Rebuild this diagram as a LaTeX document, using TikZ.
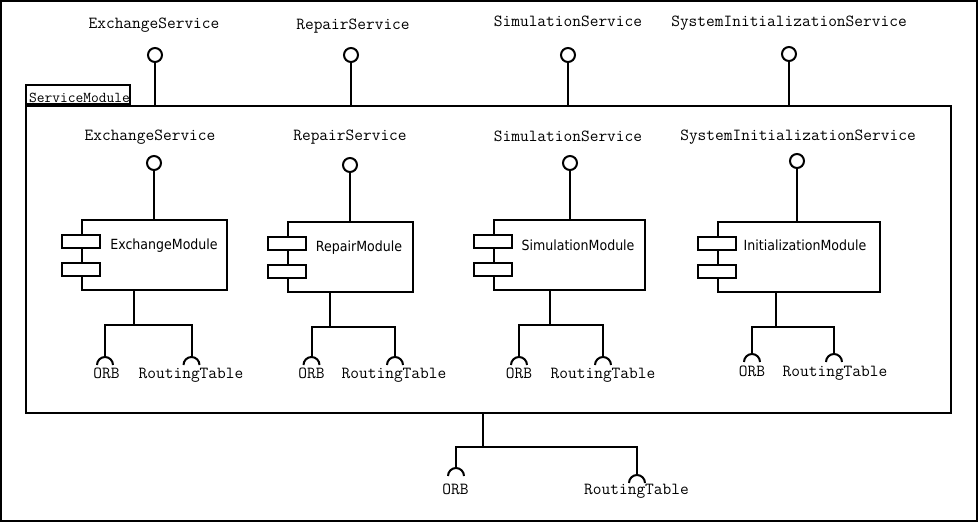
\documentclass[tikz,border=0pt]{standalone}
\usepackage{fontspec}
\newfontfamily\umlsans[FakeStretch=0.9]{DejaVu Sans}
\tikzset{
    iface/.style={circle, draw, minimum size=10.5pt, inner sep=0pt},
    module/.style={rectangle, draw, minimum height=52.5pt, inner sep=0pt},
    modpin/.style={rectangle, draw, fill=white, minimum width=29pt, minimum height=9.75pt, inner sep=0pt},
    ifacelbl/.style={font=\ttfamily\fontsize{12.7}{14}\selectfont, anchor=base, inner sep=0pt},
    modlbl/.style={font=\umlsans\fontsize{10.5}{12}\selectfont, anchor=base, inner sep=0pt},
    socket/.pic={\draw (-6pt,-6pt) arc[start angle=180, end angle=0, radius=6pt];}
}
\begin{document}
\begin{tikzpicture}[x=0.75pt, y=-0.75pt, line width=1.5pt]
        \useasboundingbox (0, 0) rectangle (978, 522);
        \draw (1, 1) rectangle (977, 521);
        % package
        \node[rectangle, draw, minimum width=693.75pt, minimum height=230.25pt] (svc) at (488.5, 259.5) {};
        \node[rectangle, draw, minimum width=78pt, minimum height=14.25pt, anchor=south west] (svctab) at (svc.north west) {};
        \node[anchor=base west, inner sep=0pt, font=\ttfamily\fontsize{11.3}{13}\selectfont] (svclbl) at (28, 102) {ServiceModule};
        % provided interfaces of the package
        \node[ifacelbl] (topexlbl) at (154, 28) {ExchangeService};
        \node[ifacelbl] (toprplbl) at (353, 29) {RepairService};
        \node[ifacelbl] (topsmlbl) at (568, 26) {SimulationService};
        \node[ifacelbl] (topinlbl) at (789, 26) {SystemInitializationService};
        \node[iface] (topex) at (155, 55) {};
        \node[iface] (toprp) at (351, 55) {};
        \node[iface] (topsm) at (568, 55) {};
        \node[iface] (topin) at (789, 54) {};
        \draw (topex) -- (topex |- svc.north);
        \draw (toprp) -- (toprp |- svc.north);
        \draw (topsm) -- (topsm |- svc.north);
        \draw (topin) -- (topin |- svc.north);
        % modules
        \node[module, minimum width=108.75pt] (exmod) at (154.5, 255) {};
        \node[module, minimum width=93.75pt] (rpmod) at (350.5, 257) {};
        \node[module, minimum width=113.25pt] (smmod) at (569.5, 255) {};
        \node[module, minimum width=121.5pt] (inmod) at (799, 257) {};
        \node[modpin] (expin1) at ([yshift=10.5pt]exmod.west) {};
        \node[modpin] (expin2) at ([yshift=-10.5pt]exmod.west) {};
        \node[modpin] (rppin1) at ([yshift=10.5pt]rpmod.west) {};
        \node[modpin] (rppin2) at ([yshift=-10.5pt]rpmod.west) {};
        \node[modpin] (smpin1) at ([yshift=10.5pt]smmod.west) {};
        \node[modpin] (smpin2) at ([yshift=-10.5pt]smmod.west) {};
        \node[modpin] (inpin1) at ([yshift=10.5pt]inmod.west) {};
        \node[modpin] (inpin2) at ([yshift=-10.5pt]inmod.west) {};
        \node[modlbl] (exmodlbl) at (164, 249) {ExchangeModule};
        \node[modlbl] (rpmodlbl) at (359, 251.5) {RepairModule};
        \node[modlbl] (smmodlbl) at (578, 250) {SimulationModule};
        \node[modlbl] (inmodlbl) at (805, 250) {InitializationModule};
        % provided interfaces of the modules
        \node[ifacelbl] (exlbl) at (150, 140) {ExchangeService};
        \node[ifacelbl] (rplbl) at (350, 140) {RepairService};
        \node[ifacelbl] (smlbl) at (568, 141) {SimulationService};
        \node[ifacelbl] (inlbl) at (798, 140) {SystemInitializationService};
        \node[iface] (exifc) at (154, 163) {};
        \node[iface] (rpifc) at (350, 165) {};
        \node[iface] (smifc) at (570, 163) {};
        \node[iface] (inifc) at (797, 161) {};
        \draw (exifc) -- (exifc |- exmod.north);
        \draw (rpifc) -- (rpifc |- rpmod.north);
        \draw (smifc) -- (smifc |- smmod.north);
        \draw (inifc) -- (inifc |- inmod.north);
        % required interfaces of the modules
        \coordinate (exjoin) at (134, 325);
        \coordinate (exorb) at (105, 357);
        \coordinate (exrt) at (191.5, 357);
        \draw (exjoin |- exmod.south) -- (exjoin);
        \draw (exorb) |- (exjoin) -| (exrt);
        \pic at (exorb) {socket};
        \pic at (exrt) {socket};
        \node[ifacelbl] (exorblbl) at (106.5, 378.5) {ORB};
        \node[ifacelbl] (exrtlbl) at (191, 378.5) {RoutingTable};
        \coordinate (rpjoin) at (330, 326.5);
        \coordinate (rporb) at (311.5, 357);
        \coordinate (rprt) at (395, 357);
        \draw (rpjoin |- rpmod.south) -- (rpjoin);
        \draw (rporb) |- (rpjoin) -| (rprt);
        \pic at (rporb) {socket};
        \pic at (rprt) {socket};
        \node[ifacelbl] (rporblbl) at (311.5, 378) {ORB};
        \node[ifacelbl] (rprtlbl) at (394, 378) {RoutingTable};
        \coordinate (smjoin) at (549.5, 325);
        \coordinate (smorb) at (519, 357);
        \coordinate (smrt) at (603, 357);
        \draw (smjoin |- smmod.south) -- (smjoin);
        \draw (smorb) |- (smjoin) -| (smrt);
        \pic at (smorb) {socket};
        \pic at (smrt) {socket};
        \node[ifacelbl] (smorblbl) at (519, 378) {ORB};
        \node[ifacelbl] (smrtlbl) at (603, 378) {RoutingTable};
        \coordinate (injoin) at (776, 327);
        \coordinate (inorb) at (752, 354);
        \coordinate (inrt) at (834, 354);
        \draw (injoin |- inmod.south) -- (injoin);
        \draw (inorb) |- (injoin) -| (inrt);
        \pic at (inorb) {socket};
        \pic at (inrt) {socket};
        \node[ifacelbl] (inorblbl) at (752, 376.5) {ORB};
        \node[ifacelbl] (inrtlbl) at (835, 376.5) {RoutingTable};
        % required interfaces of the package
        \coordinate (botjoin) at (483, 447);
        \coordinate (botorb) at (456, 468);
        \coordinate (botrt) at (637, 475);
        \draw (botjoin |- svc.south) -- (botjoin);
        \draw (botorb) |- (botjoin) -| (botrt);
        \pic at (botorb) {socket};
        \pic at (botrt) {socket};
        \node[ifacelbl] (botorblbl) at (455.5, 494.5) {ORB};
        \node[ifacelbl] (botrtlbl) at (636.5, 494.5) {RoutingTable};
    \end{tikzpicture}
\end{document}
